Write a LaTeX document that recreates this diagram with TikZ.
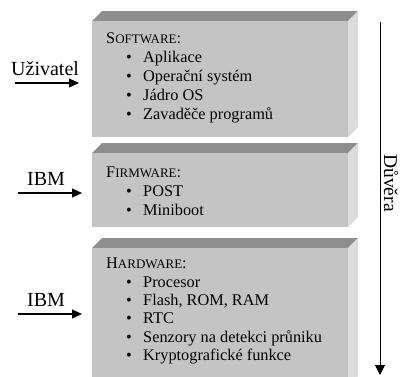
\documentclass[tikz,border=0pt]{standalone}
\usepackage{fontspec}
\setmainfont{Liberation Serif}
\usetikzlibrary{arrows.meta}
\definecolor{frontgray}{HTML}{C4C4C4}
\definecolor{topgray}{HTML}{8E8E8E}
\definecolor{sidegray}{HTML}{DCDCDC}
\newcommand{\smcap}[2]{#1{\fontsize{13}{13}\selectfont #2}}
\tikzset{
  itemtext/.style={anchor=base west, inner sep=0pt, font=\fontsize{16.3}{19}\selectfont},
  bul/.style={anchor=base, inner sep=0pt, font=\fontsize{16.3}{19}\selectfont},
  sidelabel/.style={anchor=base west, inner sep=0pt, font=\fontsize{20}{23}\selectfont},
  feed/.style={line width=1.1pt, -{Triangle[length=10pt,width=9pt]}},
}
% bevelled layer: back-top y, front-top y, bottom y
\newcommand{\layerbox}[3]{%
  \fill[topgray] (92,#2) -- (102,#1) -- (358,#1) -- (348,#2) -- cycle;
  \fill[frontgray] (92,#2) rectangle (348,#3);
  \fill[sidegray] (348,#2) -- (358,#1) -- (358,{#3-10}) -- (348,#3) -- cycle;
}
\begin{document}
\begin{tikzpicture}[x=1pt,y=-1pt]
\useasboundingbox (0,0) rectangle (400,376);

% layers
\layerbox{11}{21}{137}
\layerbox{143}{153}{227}
\layerbox{238}{248}{386}

% software
\node[itemtext] (sw) at (106,43) {\smcap{S}{OFTWARE}:};
\foreach \y/\txt [count=\i] in {62/Aplikace, 81/Operační systém, 100/Jádro OS, 119/Zavaděče programů}{
  \node[bul] (swb\i) at (129,\y) {•};
  \node[itemtext] (swi\i) at (143,\y) {\txt};
}

% firmware
\node[itemtext] (fw) at (106,177) {\smcap{F}{IRMWARE}:};
\foreach \y/\txt [count=\i] in {196/POST, 215/Miniboot}{
  \node[bul] (fwb\i) at (129,\y) {•};
  \node[itemtext] (fwi\i) at (143,\y) {\txt};
}

% hardware
\node[itemtext] (hw) at (106,268) {\smcap{H}{ARDWARE}:};
\foreach \y/\txt [count=\i] in {287/Procesor, 305/{Flash, ROM, RAM}, 323/RTC, 342/Senzory na detekci průniku, 360/Kryptografické funkce}{
  \node[bul] (hwb\i) at (129,\y) {•};
  \node[itemtext] (hwi\i) at (143,\y) {\txt};
}

% sources feeding each layer
\node[sidelabel] (user) at (11,75) {Uživatel};
\coordinate (userA) at (15,83);
\coordinate (userB) at (79,83);
\draw[feed] (userA) -- (userB);

\node[sidelabel] (ibm1) at (27,185) {IBM};
\coordinate (fwA) at (18,193);
\coordinate (fwB) at (82,193);
\draw[feed] (fwA) -- (fwB);

\node[sidelabel] (ibm2) at (27,306) {IBM};
\coordinate (hwA) at (18,314);
\coordinate (hwB) at (82,314);
\draw[feed] (hwA) -- (hwB);

% trust axis
\coordinate (trA) at (380,22);
\coordinate (trB) at (380,375);
\draw[line width=1pt, -{Triangle[length=10pt,width=10pt]}] (trA) -- (trB);
\node[rotate=-90, inner sep=0pt, font=\fontsize{19.5}{22}\selectfont] (trust) at (391,183) {Důvěra};
\end{tikzpicture}
\end{document}
